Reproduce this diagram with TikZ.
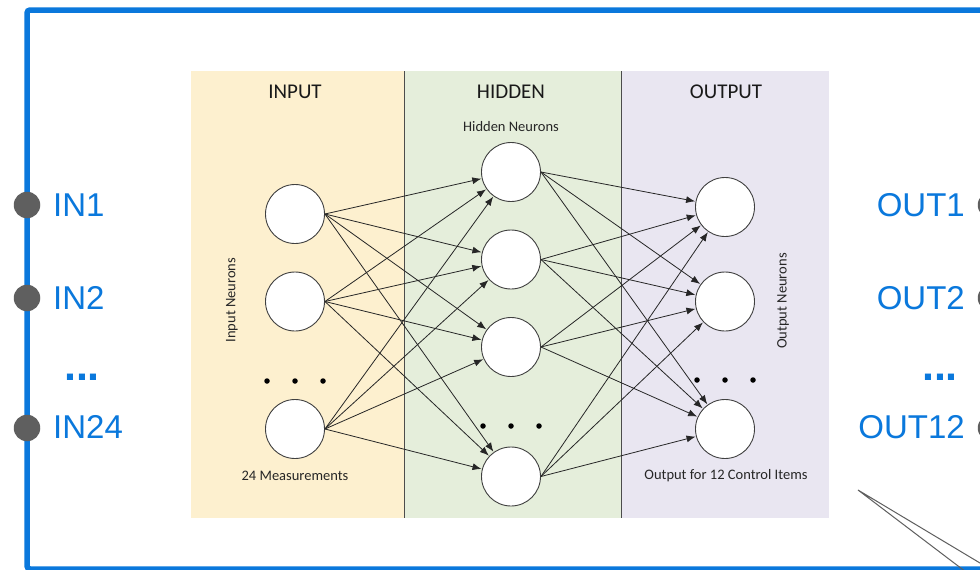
\documentclass[tikz,border=0pt]{standalone}
\usepackage{fontspec}
\setmainfont{Carlito}
\newfontfamily\arialf{Liberation Sans}
\usetikzlibrary{arrows.meta}
\definecolor{frameblue}{HTML}{0A78DC}
\definecolor{dotgrey}{HTML}{5F5F5F}
\definecolor{inyellow}{HTML}{FDF0CF}
\definecolor{hidgreen}{HTML}{E5EEDB}
\definecolor{outlav}{HTML}{E9E6F1}
\definecolor{edgegrey}{HTML}{404040}
\tikzset{
  neuron/.style={circle, draw=edgegrey, fill=white, minimum size=59pt, inner sep=0pt, line width=0.9pt},
  arr/.style={draw=black!85, line width=0.8pt, -{Latex[length=9pt,width=7pt]}, shorten >=0.5pt},
  pin/.style={circle, fill=dotgrey, minimum size=26.5pt, inner sep=0pt},
  iolabel/.style={font=\arialf\fontsize{33}{33}\selectfont, text=frameblue, inner sep=0pt},
  iodots/.style={font=\arialf\bfseries\fontsize{43}{43}\selectfont, text=frameblue, inner sep=0pt},
  header/.style={font=\fontsize{21}{21}\selectfont, text=black!90, inner sep=0pt},
  small/.style={font=\fontsize{14.5}{14.5}\selectfont, text=black!85, inner sep=0pt},
  bigdot/.style={circle, fill=black, minimum size=5.5pt, inner sep=0pt},
  divider/.style={draw=black!70, line width=0.9pt}
}
\begin{document}
\begin{tikzpicture}[x=1pt,y=-1pt]
\clip (0,0) rectangle (980,570);
\fill[white] (0,0) rectangle (980,570);

% blue frame
\draw[frameblue, line width=5.5pt, rounded corners=3pt] (27,10) rectangle (991,569);

% panels
\fill[inyellow] (191,71) rectangle (404,518);
\fill[hidgreen] (404,71) rectangle (621,518);
\fill[outlav] (621,71) rectangle (829,518);
\draw[divider] (404,71) -- (404,518);
\draw[divider] (621,71) -- (621,518);

% headers
\node[header] (hin) at (295,92) {INPUT};
\node[header] (hhid) at (511,92) {HIDDEN};
\node[header] (hout) at (726,92) {OUTPUT};

\node[small] (lhid) at (511,127) {Hidden Neurons};
\node[small] (lmeas) at (295,476) {24 Measurements};
\node[small] (lctrl) at (726,476) {Output for 12 Control Items};
\node[small, rotate=90] (lin) at (232,300) {Input Neurons};
\node[small, rotate=90] (lon) at (783,301) {Output Neurons};

% neurons
\node[neuron] (i1) at (295,214) {};
\node[neuron] (i2) at (295,301.5) {};
\node[neuron] (i3) at (295,429) {};
\node[neuron] (h1) at (511,172) {};
\node[neuron] (h2) at (511,259.5) {};
\node[neuron] (h3) at (511,347) {};
\node[neuron] (h4) at (511,476.5) {};
\node[neuron] (o1) at (725,207) {};
\node[neuron] (o2) at (725,301.5) {};
\node[neuron] (o3) at (725,429) {};

% ellipsis dots
\foreach \x [count=\k] in {267,295,323} \node[bigdot] (di\k) at (\x,381) {};
\foreach \x [count=\k] in {483,511,539} \node[bigdot] (dh\k) at (\x,426) {};
\foreach \x [count=\k] in {697,725,753} \node[bigdot] (do\k) at (\x,380) {};

% connections
\foreach \s in {i1,i2,i3} \foreach \t in {h1,h2,h3,h4} \draw[arr] (\s.east) -- (\t);
\foreach \s in {h1,h2,h3,h4} \foreach \t in {o1,o2,o3} \draw[arr] (\s.east) -- (\t);

% left pins and labels
\node[pin] (p1) at (27,205) {};
\node[pin] (p2) at (27,298) {};
\node[pin] (p3) at (27,428) {};
\node[iolabel, anchor=west] (in1) at (53,205) {IN1};
\node[iolabel, anchor=west] (in2) at (53,298) {IN2};
\node[iodots, anchor=base] (indots) at (82,380) {...};
\node[iolabel, anchor=west] (in24) at (53,427) {IN24};

% right pins and labels
\node[pin] (q1) at (991,205) {};
\node[pin] (q2) at (991,298) {};
\node[pin] (q3) at (991,428) {};
\node[iolabel, anchor=east] (out1) at (965,205) {OUT1};
\node[iolabel, anchor=east] (out2) at (965,298) {OUT2};
\node[iodots, anchor=base] (outdots) at (940,380) {...};
\node[iolabel, anchor=east] (out12) at (965,427) {OUT12};

% callout lines
\coordinate (c0) at (858,490);
\coordinate (c1) at (966,572);
\coordinate (c2) at (995,572);
\draw[dotgrey, line width=1pt] (c1) -- (c0) -- (c2);
\end{tikzpicture}
\end{document}
